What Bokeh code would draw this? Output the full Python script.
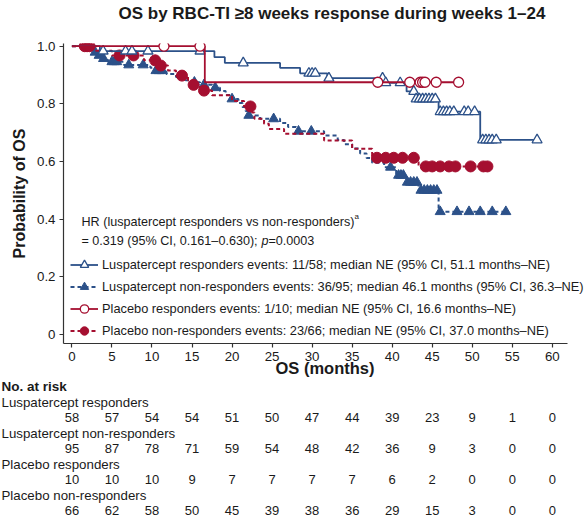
import numpy as np
from bokeh.plotting import figure
from bokeh.layouts import column
from bokeh.models import (Range1d, FixedTicker, Label, Legend, LegendItem,
                          PrintfTickFormatter, ColumnDataSource)
from bokeh.core.properties import value
from bokeh.embed import file_html
from bokeh.resources import INLINE

# ---------------- data ----------------
TITLE = "OS by RBC-TI \u22658 weeks response during weeks 1\u201324"
X_LABEL = "OS (months)"
Y_LABEL = "Probability of OS"

# Luspatercept responders (event times / survival after event / censor times)
lr_event_t = [3.5, 17.8, 19.1, 26.0, 28.5, 31.9, 38.9, 41.8, 42.9, 45.8, 51.0]
lr_event_s = [0.983, 0.962, 0.942, 0.925, 0.906, 0.889, 0.873, 0.843, 0.817, 0.773, 0.675]
lr_censor_t = [3.9, 6.7, 7.5, 9.5, 16.0, 21.4, 29.6, 30.0, 30.4, 32.1, 38.8, 39.2, 41.0,
               42.7, 43.0, 43.4, 43.8, 44.2, 44.6, 45.0, 45.4, 46.0, 46.4, 46.8, 47.2,
               47.7, 49.0, 49.5, 50.3, 51.3, 51.7, 52.1, 52.5, 53.0, 58.1]

# Luspatercept non-responders
ln_event_t = [1.5, 2.5, 3.2, 3.7, 4.5, 6.5, 9.8, 10.3, 11.8, 13.0, 14.2, 15.0, 16.0, 17.5,
              18.5, 19.2, 19.8, 20.8, 21.3, 21.7, 22.0, 23.5, 26.0, 27.0, 28.0, 31.5, 33.2,
              34.0, 35.0, 36.0, 36.8, 37.5, 39.0, 40.5, 41.7, 43.3, 45.8]
ln_event_s = [0.989, 0.979, 0.968, 0.957, 0.946, 0.935, 0.925, 0.915, 0.904, 0.893, 0.882,
              0.875, 0.866, 0.856, 0.845, 0.831, 0.817, 0.803, 0.789, 0.775, 0.760, 0.748,
              0.734, 0.720, 0.705, 0.690, 0.675, 0.660, 0.645, 0.628, 0.612, 0.596, 0.580,
              0.552, 0.528, 0.500, 0.426]
ln_censor_t = [2.9, 3.4, 3.95, 5.0, 5.3, 5.6, 7.1, 8.9, 10.5, 10.9, 11.3, 15.3, 16.5, 17.9,
               20.0, 22.1, 25.2, 28.3, 29.9, 39.8, 40.8, 41.1, 41.4, 41.9, 42.3, 42.7, 43.1,
               43.6, 44.0, 44.4, 44.8, 45.2, 45.6, 46.0, 48.1, 49.6, 51.0, 52.5, 54.2]

# Placebo responders
pr_event_t = [16.6]
pr_event_s = [0.875]
pr_censor_t = [11.5, 16.0, 38.2, 42.2, 43.5, 43.8, 44.1, 45.5, 48.3]

# Placebo non-responders
pn_event_t = [3.0, 5.0, 9.0, 10.8, 12.0, 13.0, 14.5, 15.0, 16.0, 17.5, 20.0, 21.5, 22.5,
              22.8, 24.0, 24.6, 26.5, 31.5, 35.0, 37.5, 43.3]
pn_event_s = [0.984, 0.968, 0.951, 0.933, 0.916, 0.898, 0.882, 0.866, 0.846, 0.830, 0.810,
              0.791, 0.770, 0.748, 0.731, 0.713, 0.696, 0.673, 0.644, 0.613, 0.583]
pn_censor_t = [1.6, 1.9, 2.2, 5.95, 7.7, 10.4, 11.1, 13.75, 15.2, 16.5, 22.3, 38.1, 39.2,
               40.2, 41.3, 42.7, 44.2, 45.0, 46.0, 47.1, 47.9, 49.8, 51.4, 51.9]

legend_labels = [
    "Luspatercept responders events: 11/58; median NE (95% CI, 51.1 months\u2013NE)",
    "Luspatercept non-responders events: 36/95; median 46.1 months (95% CI, 36.3\u2013NE)",
    "Placebo responders events: 1/10; median NE (95% CI, 16.6 months\u2013NE)",
    "Placebo non-responders events: 23/66; median NE (95% CI, 37.0 months\u2013NE)",
]
hr_line1 = "HR (luspatercept responders vs non-responders)"
hr_sup = "a"
hr_line2a = "= 0.319 (95% CI, 0.161\u20130.630); "
hr_line2p = "p"
hr_line2b = "=0.0003"

x_ticks = list(range(0, 61, 5))
y_ticks = [0, 0.2, 0.4, 0.6, 0.8, 1.0]

risk_title = "No. at risk"
risk_groups = ["Luspatercept responders", "Luspatercept non-responders",
               "Placebo responders", "Placebo non-responders"]
risk_lr = [58, 57, 54, 54, 51, 50, 47, 44, 39, 23, 9, 1, 0]
risk_ln = [95, 87, 78, 71, 59, 54, 48, 42, 36, 9, 3, 0, 0]
risk_pr = [10, 10, 10, 9, 7, 7, 7, 7, 6, 2, 0, 0, 0]
risk_pn = [66, 62, 58, 50, 45, 39, 38, 36, 29, 15, 3, 0, 0]

# ---------------- layout ----------------
W = 588
HT = 26             # title strip
H1 = 380 - HT       # main plot canvas height
H2 = 519 - 380      # at-risk table canvas height
L, R, T, B = 63, 2, 43 - HT, 37
X0, XAX1 = -1.05, 61.9          # visible x-axis extent
Y0, Y1 = -0.0312, 1.0094
KX = 504 / (XAX1 - X0)          # pixels per month
X1 = X0 + (W - L - R) / KX      # frame runs a little past the axis (legend room)
FH = H1 - T - B


def dx(px):
    return X0 + (px - L) / KX


def dy(py):
    return Y1 - (py - 43) * (Y1 - Y0) / FH


FONT = "Liberation Sans"
TXT = "#1a1a1a"
BLUE = "#2C5189"
RED = "#A50F30"


def blank(height, xr, yr):
    f = figure(width=W, height=height, x_range=xr, y_range=yr, output_backend="svg",
               toolbar_location=None, x_axis_location=None, y_axis_location=None,
               min_border=0, min_border_left=0, min_border_right=0,
               min_border_top=0, min_border_bottom=0)
    f.outline_line_color = None
    f.grid.visible = False
    f.background_fill_color = "white"
    f.border_fill_color = "white"
    f.frame_align = False
    return f


# ---------------- title strip ----------------
head = blank(HT, Range1d(0, W), Range1d(HT, 0))
head.text(x=[118], y=[12.5], text=[TITLE], text_font=value(FONT), text_font_size="17px",
          text_font_style="bold", text_color=TXT, text_baseline="middle", text_align="left")

# ---------------- main plot ----------------
p = figure(width=W, height=H1, x_range=Range1d(X0, X1), y_range=Range1d(Y0, Y1),
           output_backend="svg", toolbar_location=None,
           min_border_left=L, min_border_right=R, min_border_top=T, min_border_bottom=B)
p.frame_align = False
p.outline_line_color = None
p.xgrid.visible = False
p.ygrid.visible = False
p.background_fill_color = "white"
p.border_fill_color = "white"

p.xaxis.ticker = FixedTicker(ticks=x_ticks)
p.xaxis.bounds = (X0, XAX1)
p.yaxis.ticker = FixedTicker(ticks=y_ticks)
p.yaxis.formatter = PrintfTickFormatter(format="%.1f")
p.yaxis.major_label_overrides = {0: "0"}
for ax in (p.xaxis[0], p.yaxis[0]):
    ax.axis_line_color = "#333333"
    ax.axis_line_width = 1.2
    ax.major_tick_line_color = "#333333"
    ax.major_tick_line_width = 1.2
    ax.major_tick_out = 4
    ax.major_tick_in = 0
    ax.minor_tick_line_color = None
    ax.major_label_text_font = FONT
    ax.major_label_text_font_size = "13.3px"
    ax.major_label_text_color = TXT
    ax.major_label_standoff = 4
    ax.axis_label_text_font = FONT
    ax.axis_label_text_font_style = "bold"
    ax.axis_label_text_color = TXT

p.xaxis.axis_label = X_LABEL
p.xaxis.axis_label_text_font_size = "16.5px"
p.xaxis.axis_label_standoff = -5
p.yaxis.axis_label = Y_LABEL
p.yaxis.axis_label_text_font_size = "16px"
p.yaxis.axis_label_standoff = 6


def km(t, s, c):
    end = max(max(c), max(t))
    xs = [0.0] + list(t) + [end]
    ys = [1.0] + list(s) + [s[-1]]
    levels = np.array([1.0] + list(s))
    cy = levels[np.searchsorted(np.array(t), np.array(c), side="right")]
    return xs, ys, list(c), list(cy)


ln_x, ln_y, ln_cx, ln_cy = km(ln_event_t, ln_event_s, ln_censor_t)
pn_x, pn_y, pn_cx, pn_cy = km(pn_event_t, pn_event_s, pn_censor_t)
lr_x, lr_y, lr_cx, lr_cy = km(lr_event_t, lr_event_s, lr_censor_t)
pr_x, pr_y, pr_cx, pr_cy = km(pr_event_t, pr_event_s, pr_censor_t)

ln_line = p.step(ln_x, ln_y, mode="after", line_color=BLUE, line_width=2, line_dash="4 3")
ln_pts = p.scatter(ln_cx, ln_cy, marker="triangle", size=10, fill_color=BLUE, line_color=BLUE)
pn_line = p.step(pn_x, pn_y, mode="after", line_color=RED, line_width=2, line_dash="4 3")
pn_pts = p.scatter(pn_cx, pn_cy, marker="circle", size=11, fill_color=RED, line_color=RED)
lr_line = p.step(lr_x, lr_y, mode="after", line_color=BLUE, line_width=1.8)
lr_pts = p.scatter(lr_cx, lr_cy, marker="triangle", size=10, fill_color="white",
                   line_color=BLUE, line_width=1.3)
pr_line = p.step(pr_x, pr_y, mode="after", line_color=RED, line_width=1.8)
pr_pts = p.scatter(pr_cx, pr_cy, marker="circle", size=10, fill_color="white",
                   line_color=RED, line_width=1.3)

legend = Legend(items=[
    LegendItem(label=legend_labels[0], renderers=[lr_line, lr_pts]),
    LegendItem(label=legend_labels[1], renderers=[ln_line, ln_pts]),
    LegendItem(label=legend_labels[2], renderers=[pr_line, pr_pts]),
    LegendItem(label=legend_labels[3], renderers=[pn_line, pn_pts]),
], location=(7, 2))
legend.glyph_width = 28
legend.glyph_height = 21
legend.label_height = 21
legend.spacing = 1
legend.padding = 2
legend.margin = 0
legend.label_standoff = 4
legend.border_line_color = None
legend.background_fill_alpha = 0
legend.label_text_font = FONT
legend.label_text_font_size = "12.8px"
legend.label_text_color = TXT
p.add_layout(legend)


def lab(x, y, text, size, italic=False, align="left"):
    p.add_layout(Label(x=x, y=y, text=text, text_font=FONT, text_font_size=size,
                       text_font_style="italic" if italic else "normal",
                       text_color=TXT, text_align=align, text_baseline="middle"))


# HR annotation (inside the plot area)
lab(dx(81), dy(221), hr_line1, "12.6px")
lab(dx(354), dy(216), hr_sup, "8px")
lab(dx(81), dy(240), hr_line2a, "12.6px")
lab(dx(261), dy(240), hr_line2p, "12.6px", italic=True)
lab(dx(268), dy(240), hr_line2b, "12.6px")

# ---------------- number at risk table ----------------
TX0 = X0 - L / KX
t = blank(H2, Range1d(TX0, TX0 + W / KX), Range1d(H2, 0))
TOP = 380
row_label_x = TX0 + 1 / KX
t.text(x=[row_label_x], y=[385.5 - TOP], text=[risk_title], text_font=value(FONT),
       text_font_size="13.5px", text_font_style="bold", text_color=TXT,
       text_baseline="middle", text_align="left")

risk_rows = [risk_lr, risk_ln, risk_pr, risk_pn]
lab_y0, num_y0, step = 401.7, 416.8, 31.1
gx, gy, gt = [], [], []
nx, ny, nt = [], [], []
for i, (grp, row) in enumerate(zip(risk_groups, risk_rows)):
    gx.append(row_label_x)
    gy.append(lab_y0 + step * i - TOP)
    gt.append(grp)
    for tk, n in zip(x_ticks, row):
        nx.append(tk)
        ny.append(num_y0 + step * i - TOP)
        nt.append(str(n))

t.text(x="x", y="y", text="text", source=ColumnDataSource(dict(x=gx, y=gy, text=gt)),
       text_font=value(FONT), text_font_size="13.3px", text_color=TXT,
       text_baseline="middle", text_align="left")
t.text(x="x", y="y", text="text", source=ColumnDataSource(dict(x=nx, y=ny, text=nt)),
       text_font=value(FONT), text_font_size="13px", text_color=TXT,
       text_baseline="middle", text_align="center")

layout = column(head, p, t, spacing=0)
open("out.html", "w").write(file_html(layout, INLINE))
